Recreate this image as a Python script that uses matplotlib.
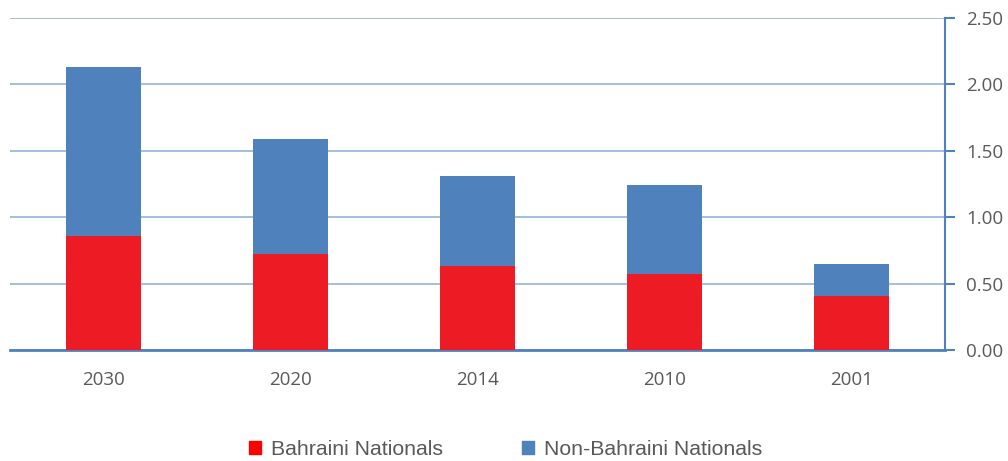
import matplotlib.pyplot as plt
import numpy as np
from matplotlib.patches import Patch

# population (millions)
years = ['2030', '2020', '2014', '2010', '2001']
bahraini = [0.86, 0.72, 0.63, 0.57, 0.41]
non_bahraini = [1.27, 0.87, 0.68, 0.67, 0.24]
y_ticks = [0.0, 0.5, 1.0, 1.5, 2.0, 2.5]

red = '#ED1C24'
blue = '#4F81BD'
grid_col = '#95B3D7'
text_col = '#595959'

plt.rcParams['font.family'] = ['Open Sans', 'DejaVu Sans']

fig = plt.figure(figsize=(10.08, 4.61), dpi=100)
ax = fig.add_axes([10 / 1008, 111 / 461, 935 / 1008, 332 / 461])

x = np.arange(len(years))
ax.bar(x, bahraini, width=0.4, color=red, zorder=3)
ax.bar(x, non_bahraini, width=0.4, bottom=bahraini, color=blue, zorder=3)

ax.set_xlim(-0.5, len(years) - 0.5)
ax.set_ylim(0, 2.5)
ax.set_yticks(y_ticks)
ax.set_yticklabels(['%.2f' % v for v in y_ticks])
ax.set_xticks(x)
ax.set_xticklabels(years)

ax.yaxis.tick_right()
ax.grid(axis='y', color=grid_col, linewidth=1.2, zorder=0)
for s in ['top', 'left']:
    ax.spines[s].set_visible(False)
ax.spines['right'].set_color(blue)
ax.spines['right'].set_linewidth(1.5)
ax.spines['bottom'].set_color(blue)
ax.spines['bottom'].set_linewidth(2)
ax.tick_params(axis='y', colors=blue, labelcolor=text_col, length=7, width=1.5,
               pad=8, labelsize=13.5)
ax.tick_params(axis='x', length=0, pad=15, labelcolor=text_col, labelsize=13.5)

handles = [Patch(color='#FF0000'), Patch(color=blue)]
fig.legend(handles, ['Bahraini Nationals', 'Non-Bahraini Nationals'],
           loc='center', bbox_to_anchor=(0.5015, 0.025), ncol=2, frameon=False,
           prop={'family': ['Liberation Sans', 'DejaVu Sans'], 'size': 15.3},
           labelcolor=text_col, handlelength=0.56, handleheight=0.56,
           handletextpad=0.47, columnspacing=3.7, borderpad=0, borderaxespad=0)

fig.savefig('out.png', dpi=100)
